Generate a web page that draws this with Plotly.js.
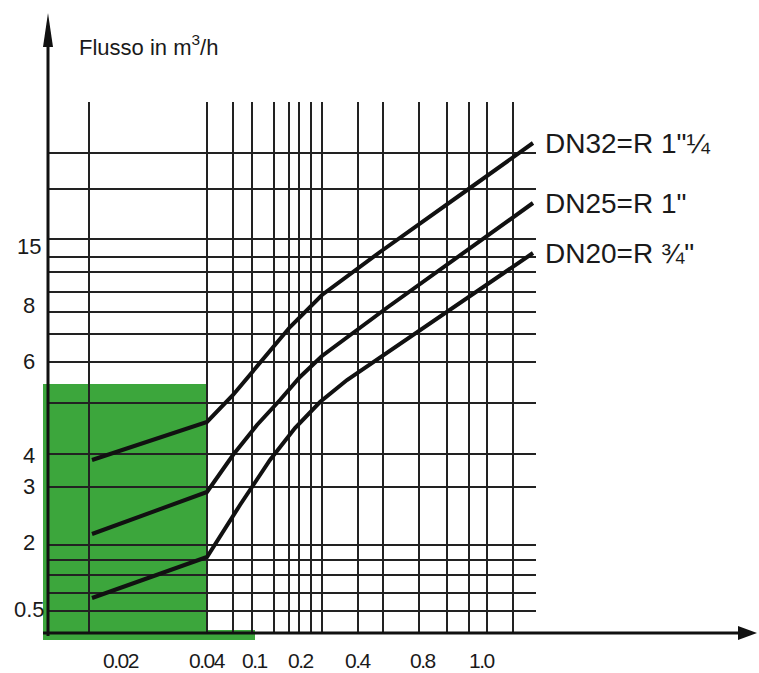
<!DOCTYPE html>
<html>
<head>
<meta charset="utf-8">
<script src="https://cdn.plot.ly/plotly-3.0.1.min.js"></script>
<style>
  html, body { margin: 0; padding: 0; background: #fff; }
  #chart { width: 759px; height: 673px; }
</style>
</head>
<body>
<div id="chart"></div>
<script>
// Nomogram scale units (origin at the axes corner, y upward)
const xTickVals = [73, 159, 207, 253, 310, 375, 434];
const xTickText = ['0.02', '0.04', '0.1', '0.2', '0.4', '0.8', '1.0'];
const yTickVals = [387, 328, 272, 178, 147, 91, 24];
const yTickText = ['15', '8', '6', '4', '3', '2', '0.5'];

const xGrid = [41, 159, 185, 204, 226, 241, 251, 263, 274, 310, 335, 371, 399, 421, 439, 465];
const yGrid = [480, 444, 394, 376, 361, 341, 321, 299, 271, 230, 179, 146, 88, 73, 58, 40, 22];
const gridTop = 531;
const gridRight = 488;

const seriesNames = ['DN32=R 1"¼', 'DN25=R 1"', 'DN20=R ¾"'];
const dn32X = [44, 159, 185, 209, 242, 274, 332, 422, 485];
const dn32Y = [173, 211, 238, 266, 306, 338, 381, 445, 490];
const dn25X = [44, 159, 185, 209, 232, 252, 274, 340, 485];
const dn25Y = [99, 141, 178, 208, 233, 256, 277, 326, 430];
const dn20X = [44, 159, 192, 222, 247, 272, 299, 485];
const dn20Y = [35, 76, 128, 173, 205, 231, 253, 380];

// Highlighted zone outline (scale units)
const zoneX = [-5, -5, 160, 160, 207, 207];
const zoneY = [-7, 249, 249, 3, 3, -7];

// grid traces built from the grid arrays
const gx = [], gy = [];
xGrid.forEach(v => { gx.push(v, v, null); gy.push(0, gridTop, null); });
const hx = [], hy = [];
yGrid.forEach(v => { hx.push(0, gridRight, null); hy.push(v, v, null); });

const FONT = 'Liberation Sans, Arial, sans-serif';
const gridStyle = { color: '#222', width: 2 };
const curveStyle = { color: '#111', width: 4 };

const traces = [
  { x: zoneX, y: zoneY, mode: 'lines', fill: 'toself', fillcolor: '#3ca63c', line: { width: 0, color: '#3ca63c' }, hoverinfo: 'skip', showlegend: false },
  { x: gx, y: gy, mode: 'lines', line: gridStyle, hoverinfo: 'skip', showlegend: false },
  { x: hx, y: hy, mode: 'lines', line: gridStyle, hoverinfo: 'skip', showlegend: false },
  { x: dn32X, y: dn32Y, name: seriesNames[0], mode: 'lines', line: curveStyle, showlegend: false },
  { x: dn25X, y: dn25Y, name: seriesNames[1], mode: 'lines', line: curveStyle, showlegend: false },
  { x: dn20X, y: dn20Y, name: seriesNames[2], mode: 'lines', line: curveStyle, showlegend: false }
];

const ends = [[dn32X, dn32Y], [dn25X, dn25Y], [dn20X, dn20Y]];
const annotations = ends.map((s, i) => ({
  x: s[0][s[0].length - 1] + 10, y: s[1][s[1].length - 1],
  xref: 'x', yref: 'y', text: seriesNames[i], showarrow: false,
  xanchor: 'left', yanchor: 'middle',
  font: { family: FONT, size: 28, color: '#1a1a1a' }
}));
yTickVals.forEach((v, i) => annotations.push({
  x: -19, y: v, xref: 'x', yref: 'y', text: yTickText[i], showarrow: false,
  xanchor: 'center', yanchor: 'middle',
  font: { family: FONT, size: 22, color: '#1a1a1a' }
}));
xTickVals.forEach((v, i) => annotations.push({
  x: v, y: -27, xref: 'x', yref: 'y',
  text: '<span style="letter-spacing:-1.5px">' + xTickText[i] + '</span>',
  showarrow: false, xanchor: 'center', yanchor: 'middle',
  font: { family: FONT, size: 21, color: '#1a1a1a' }
}));

const shapes = [
  // axes lines
  { type: 'line', xref: 'x', yref: 'y', x0: 0, y0: -3, x1: 0, y1: 600, line: { color: '#111', width: 3 } },
  { type: 'line', xref: 'x', yref: 'y', x0: -5, y0: 0, x1: 695, y1: 0, line: { color: '#111', width: 3 } },
  // arrow heads
  { type: 'path', xref: 'x', yref: 'y', path: 'M 0 620 L -5 586 L 5 586 Z', fillcolor: '#111', line: { width: 0 } },
  { type: 'path', xref: 'x', yref: 'y', path: 'M 709 0 L 690 7 L 690 -7 Z', fillcolor: '#111', line: { width: 0 } }
];

const layout = {
  width: 759, height: 673,
  margin: { l: 0, r: 0, t: 0, b: 0 },
  paper_bgcolor: '#fff', plot_bgcolor: '#fff',
  showlegend: false,
  title: {
    text: 'Flusso in m<sup>3</sup>/h',
    x: 79 / 759, xref: 'container', xanchor: 'left',
    y: 1 - 47 / 673, yref: 'container', yanchor: 'middle',
    font: { family: FONT, size: 22, color: '#1a1a1a' }
  },
  xaxis: { range: [-48, 711], visible: false, fixedrange: true },
  yaxis: { range: [-40, 633], visible: false, fixedrange: true },
  shapes: shapes,
  annotations: annotations
};

Plotly.newPlot('chart', traces, layout, { displayModeBar: false, staticPlot: true });
</script>
</body>
</html>
